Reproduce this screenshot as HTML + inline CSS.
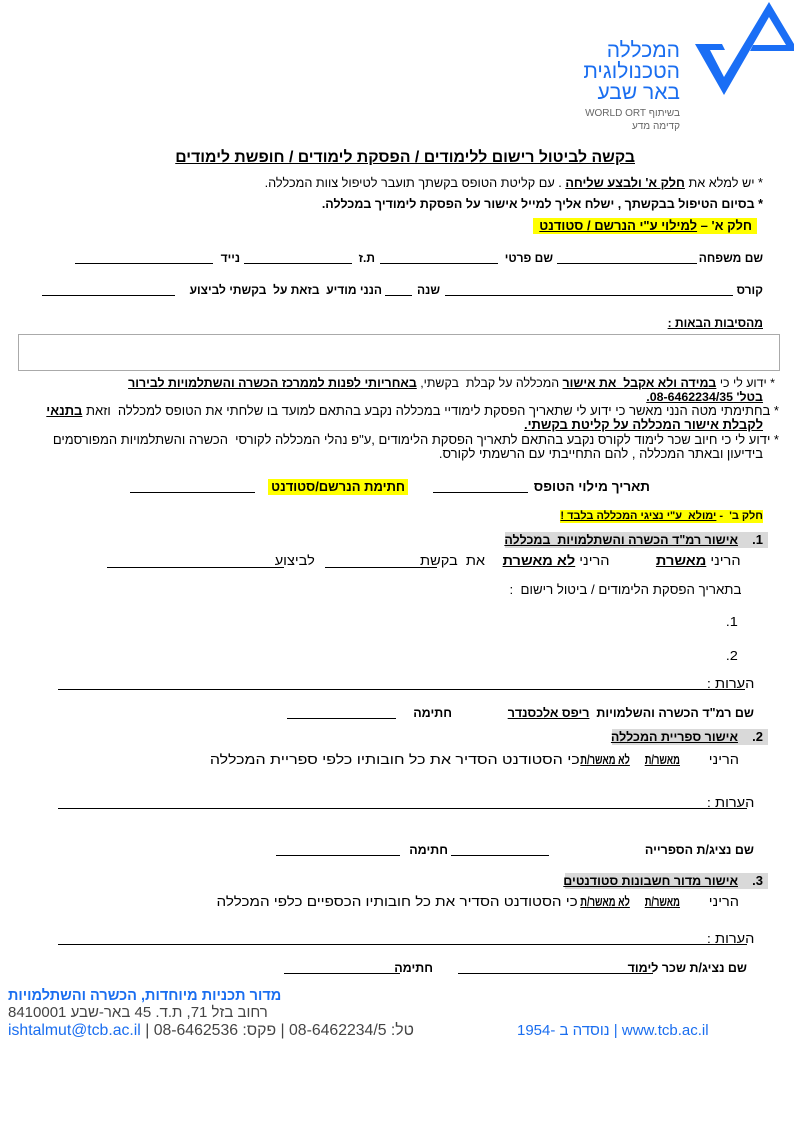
<!DOCTYPE html>
<html lang="he" dir="rtl"><head><meta charset="utf-8">
<style>
html,body{margin:0;padding:0;background:#fff}
body{width:794px;height:1123px;position:relative;overflow:hidden;font-family:"Liberation Sans","DejaVu Sans",sans-serif;color:#000}
.t{position:absolute;white-space:nowrap;direction:rtl;font-size:12px;line-height:14px}
.s{font-size:13px;transform:scaleX(1.12);transform-origin:right center}
.c{font-size:13px;font-weight:bold;text-decoration:underline;transform:scaleX(0.72);transform-origin:right center}
.b{font-weight:bold}
.u{text-decoration:underline}
.l{position:absolute;border-top:1px solid #000;height:0}
.hl{background:#ffff00}
.g{position:absolute;background:#d9d9d9;height:16px}
.blue{color:#1a6ef0}
</style></head><body>

<!-- logo -->
<svg style="position:absolute;left:690px;top:0" width="104" height="100">
<polygon points="5,44 32,44 35,50 20,50 34,77 79,2 104,44 104,51 60,51 63,45 96,45 79,17 34,95" fill="#1a6ef5"/>
</svg>
<div class="t blue" style="right:114px;top:40px;font-size:21px;line-height:22px">המכללה</div>
<div class="t blue" style="right:114px;top:61px;font-size:21px;line-height:22px">הטכנולוגית</div>
<div class="t blue" style="right:114px;top:82px;font-size:21px;line-height:22px">באר שבע</div>
<div class="t" style="right:114px;top:107px;font-size:10px;color:#666">בשיתוף WORLD ORT</div>
<div class="t" style="right:114px;top:120px;font-size:10px;color:#666">קדימה מדע</div>

<div class="t b u" style="right:159px;top:149px;font-size:15.8px;line-height:18px">בקשה לביטול רישום ללימודים / הפסקת לימודים / חופשת לימודים</div>
<div class="t" style="right:31px;top:176px;font-size:12.7px">* יש למלא את <span class="b u">חלק א' ולבצע שליחה</span> . עם קליטת הטופס בקשתך תועבר לטיפול צוות המכללה.</div>
<div class="t b" style="right:31px;top:197px;font-size:12.5px">* בסיום הטיפול בבקשתך , ישלח אליך למייל אישור על הפסקת לימודיך במכללה.</div>
<div class="t b hl" style="right:37px;top:218px;font-size:13px;line-height:16px;padding:0 5px 0 6px">חלק א' – <span class="u">למילוי ע"י הנרשם / סטודנט</span></div>

<div class="t b" style="right:31px;top:251px">שם משפחה</div><div class="l" style="left:557px;width:140px;top:263px"></div>
<div class="t b" style="right:241px;top:251px">שם פרטי</div><div class="l" style="left:380px;width:118px;top:263px"></div>
<div class="t b" style="right:419px;top:251px">ת.ז</div><div class="l" style="left:244px;width:108px;top:263px"></div>
<div class="t b" style="right:554px;top:251px">נייד</div><div class="l" style="left:75px;width:138px;top:263px"></div>

<div class="t b" style="right:31px;top:283px">קורס</div><div class="l" style="left:445px;width:288px;top:295px"></div>
<div class="t b" style="right:354px;top:283px">שנה</div><div class="l" style="left:385px;width:27px;top:295px"></div>
<div class="t b" style="right:412px;top:283px">הנני מודיע &nbsp;בזאת על &nbsp;בקשתי לביצוע</div><div class="l" style="left:42px;width:133px;top:295px"></div>

<div class="t b u" style="right:31px;top:316px">מהסיבות הבאות :</div>
<div style="position:absolute;left:18px;top:334px;width:760px;height:35px;border:1px solid #aaa"></div>

<div class="t" style="right:19px;top:376px;font-size:12.4px">* ידוע לי כי <span class="b u">במידה ולא אקבל &nbsp;את אישור</span> המכללה על קבלת &nbsp;בקשתי, <span class="b u">באחריותי לפנות לממרכז הכשרה והשתלמויות לבירור</span></div>
<div class="t b u" style="right:31px;top:390px;font-size:12.4px">בטל' 08-6462234/35.</div>
<div class="t" style="right:15px;top:404px;font-size:13px">* בחתימתי מטה הנני מאשר כי ידוע לי שתאריך הפסקת לימודיי במכללה נקבע בהתאם למועד בו שלחתי את הטופס למכללה &nbsp;וזאת <span class="b u">בתנאי</span></div>
<div class="t b u" style="right:31px;top:418px;font-size:13px">לקבלת אישור המכללה על קליטת בקשתי.</div>
<div class="t" style="right:15px;top:433px;font-size:13px">* ידוע לי כי חיוב שכר לימוד לקורס נקבע בהתאם לתאריך הפסקת הלימודים ,ע"פ נהלי המכללה לקורסי &nbsp;הכשרה והשתלמויות המפורסמים</div>
<div class="t" style="right:31px;top:447px;font-size:13px">בידיעון ובאתר המכללה , להם התחייבתי עם הרשמתי לקורס.</div>

<div class="t b" style="right:144px;top:480px;font-size:13.5px">תאריך מילוי הטופס</div><div class="l" style="left:433px;width:95px;top:492px"></div>
<div class="t b hl" style="right:386px;top:479px;font-size:13px;line-height:16px;padding:0 3px">חתימת הנרשם/סטודנט</div><div class="l" style="left:130px;width:125px;top:492px"></div>

<div class="t b hl" style="right:31px;top:510px;font-size:11px;line-height:13px">חלק ב' &nbsp;- <span class="u">ימולא &nbsp;ע"י נציגי המכללה בלבד !</span></div>

<!-- section 1 -->
<div class="g" style="left:505px;width:263px;top:532px"></div>
<div class="t b" style="right:31px;top:533px;font-size:13px">1.</div>
<div class="t b u" style="right:56px;top:533px;font-size:12.5px">אישור רמ"ד הכשרה והשתלמויות &nbsp;במכללה</div>
<div class="t s" style="right:53px;top:554px">הריני <span class="b u">מאשרת</span></div>
<div class="t s" style="right:185px;top:554px">הריני <span class="b u">לא מאשרת</span></div>
<div class="t s" style="right:309px;top:554px">את &nbsp;בקשת</div><div class="l" style="left:325px;width:112px;top:567px"></div>
<div class="t s" style="right:479px;top:554px">לביצוע</div><div class="l" style="left:107px;width:177px;top:567px"></div>
<div class="t" style="right:53px;top:583px;font-size:13px;transform:scaleX(1.02);transform-origin:right center">בתאריך הפסקת הלימודים / ביטול רישום &nbsp;:</div>
<div class="t s" style="right:56px;top:615px">1.</div>
<div class="t s" style="right:56px;top:649px">2.</div>
<div class="t s" style="right:40px;top:677px">הערות :</div><div class="l" style="left:58px;width:687px;top:689px"></div>
<div class="t b" style="right:40px;top:706px;font-size:12.5px">שם רמ"ד הכשרה והשלמויות &nbsp;<span class="u">ריפס אלכסנדר</span></div>
<div class="t b" style="right:342px;top:706px;font-size:12.5px">חתימה</div><div class="l" style="left:287px;width:109px;top:718px"></div>

<!-- section 2 -->
<div class="g" style="left:612px;width:156px;top:729px"></div>
<div class="t b" style="right:31px;top:730px;font-size:13px">2.</div>
<div class="t b u" style="right:56px;top:730px;font-size:12.5px">אישור ספריית המכללה</div>
<div class="t s" style="right:55px;top:753px">הריני</div>
<div class="t c" style="right:114px;top:753px">מאשר/ת</div>
<div class="t c" style="right:164px;top:753px">לא מאשר/ת</div>
<div class="t" style="right:214px;top:753px;font-size:13px;transform:scaleX(1.23);transform-origin:right center">כי הסטודנט הסדיר את כל חובותיו כלפי ספריית המכללה</div>
<div class="t s" style="right:40px;top:796px">הערות :</div><div class="l" style="left:58px;width:689px;top:808px"></div>
<div class="t b" style="right:40px;top:843px;font-size:12.5px">שם נציג/ת הספרייה</div><div class="l" style="left:451px;width:98px;top:855px"></div>
<div class="t b" style="right:346px;top:843px;font-size:12.5px">חתימה</div><div class="l" style="left:276px;width:124px;top:855px"></div>

<!-- section 3 -->
<div class="g" style="left:565px;width:203px;top:873px"></div>
<div class="t b" style="right:31px;top:874px;font-size:13px">3.</div>
<div class="t b u" style="right:56px;top:874px;font-size:12.5px">אישור מדור חשבונות סטודנטים</div>
<div class="t s" style="right:55px;top:895px">הריני</div>
<div class="t c" style="right:114px;top:895px">מאשר/ת</div>
<div class="t c" style="right:164px;top:895px">לא מאשר/ת</div>
<div class="t" style="right:216px;top:895px;font-size:13px;transform:scaleX(1.17);transform-origin:right center">כי הסטודנט הסדיר את כל חובותיו הכספיים כלפי המכללה</div>
<div class="t s" style="right:40px;top:932px">הערות :</div><div class="l" style="left:58px;width:689px;top:944px"></div>
<div class="t b" style="right:47px;top:961px;font-size:12.5px">שם נציג/ת שכר לימוד</div><div class="l" style="left:458px;width:195px;top:973px"></div>
<div class="t b" style="right:361px;top:961px;font-size:12.5px">חתימה</div><div class="l" style="left:284px;width:116px;top:973px"></div>

<!-- footer -->
<div class="t b blue" style="left:8px;top:988px;font-size:14.5px;line-height:16px">מדור תכניות מיוחדות, הכשרה והשתלמויות</div>
<div class="t" style="left:8px;top:1004px;font-size:15px;line-height:17px;color:#444">רחוב בזל 71, ת.ד. 45 באר-שבע 8410001</div>
<div style="position:absolute;left:8px;top:1022px;font-size:15.8px;line-height:17px;color:#444;direction:ltr;white-space:nowrap"><span class="blue">ishtalmut@tcb.ac.il</span> | 08-6462536 <bdi dir="rtl">פקס:</bdi> | 08-6462234/5 <bdi dir="rtl">טל:</bdi></div>
<div style="position:absolute;left:517px;top:1022px;font-size:15px;line-height:17px;direction:ltr;white-space:nowrap" class="blue">1954- <bdi dir="rtl">נוסדה ב</bdi> | www.tcb.ac.il</div>
</body></html>
